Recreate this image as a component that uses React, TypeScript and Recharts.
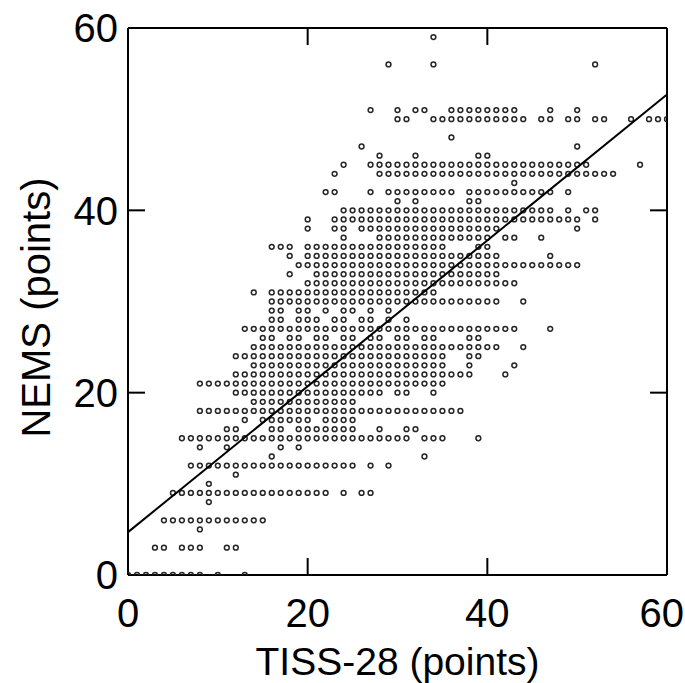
import { ScatterChart, Scatter, XAxis, YAxis } from "recharts";

// NEMS score levels (y) and, for each level, the TISS-28 values (x) that have a patient dot.
// Runs like "8-37" mean a dot at every integer score in that span.
const nemsLevels = [
  0, 3, 5, 6, 8, 9, 10, 11, 12, 13, 14, 15, 16, 17, 18, 19, 20, 21, 22, 23, 24,
  25, 26, 27, 28, 29, 30, 31, 32, 33, 34, 35, 36, 37, 38, 39, 40, 41, 42, 43,
  44, 45, 46, 47, 48, 50, 51, 56, 59,
];

const tissRuns = [
  "0-8,10,13",
  "3-4,6-8,11-12",
  "8",
  "4-15",
  "9",
  "5-22,24,26-27",
  "9",
  "12",
  "7-25,27,29",
  "16,33",
  "8,11,17,19",
  "6-31,33-35,39",
  "11-12,16-17,19-25,28,31-32",
  "13,15-20,22-25",
  "8-37",
  "14-25",
  "12-28,30-31,34",
  "8-35",
  "12-38,42",
  "14-35,38,43",
  "12-35,38-39",
  "14-41,44",
  "15-16,18-19,21-22,24-25,27-28,30-31,33-34,38-39",
  "13-43,47",
  "16-17,19-21,23-24,26-27,29,31",
  "16-17,19-20,22,24-25,27,29",
  "16-41,44",
  "14,16-34",
  "20-43",
  "18,21-41",
  "19-50",
  "18,20-41,47",
  "16-18,20-35,39-40",
  "24,28-40,42-43,46",
  "20,23-24,26-41,50",
  "20,23-50,52",
  "24-47,49,51-52",
  "30,32,38-39",
  "22-23,27,29-36,38-47,49",
  "43",
  "23,28-54",
  "24,27-51,57",
  "28,32,39-40",
  "26,50",
  "36",
  "30-31,34-44,46-47,49-50,52-53,56,58-60",
  "27,30,32-33,36-43,47,50",
  "29,34,52",
  "34",
];

// regression line end points
const fitLine = [
  { tiss: 0, nems: 4.7 },
  { tiss: 60, nems: 52.7 },
];

const axisTicks = [0, 20, 40, 60];
const innerTicks = [20, 40];

const FONT = "'Liberation Sans', Arial, Helvetica, sans-serif";

function expandRuns(runs: string): number[] {
  const out: number[] = [];
  runs.split(",").forEach((part) => {
    const [a, b] = part.split("-").map(Number);
    if (b === undefined) out.push(a);
    else for (let v = a; v <= b; v++) out.push(v);
  });
  return out;
}

const patients = nemsLevels.flatMap((nems, i) =>
  expandRuns(tissRuns[i]).map((tiss) => ({ tiss, nems }))
);

const frame = { stroke: "#000", strokeWidth: 2 };
const noLabel = () => <g />;
const noShape = () => <g />;

const XTick = (p: any) => {
  // the last label sits right at the page edge, pull it in a touch
  const last = p.payload.value === 60;
  return (
    <text
      x={last ? 684 : p.x}
      y={p.y}
      dy="0.71em"
      textAnchor={last ? "end" : "middle"}
      fontSize={40}
      fontFamily={FONT}
      fill="#000"
    >
      {p.payload.value}
    </text>
  );
};

const XLabel = (props: any) => {
  const vb = props.viewBox || { x: 128, y: 575, width: 539, height: 108 };
  return (
    <text
      x={vb.x + vb.width / 2}
      y={661}
      textAnchor="middle"
      dominantBaseline="central"
      fontSize={39}
      fontFamily={FONT}
      fill="#000"
    >
      TISS-28 (points)
    </text>
  );
};

const YLabel = (props: any) => {
  const vb = props.viewBox || { x: 0, y: 28, width: 128, height: 547 };
  const cy = vb.y + vb.height / 2 + 6;
  return (
    <text
      x={36}
      y={cy}
      transform={`rotate(-90 36 ${cy})`}
      textAnchor="middle"
      dominantBaseline="central"
      fontSize={40}
      fontFamily={FONT}
      fill="#000"
    >
      NEMS (points)
    </text>
  );
};

const Dot = (p: any) => (
  <circle cx={p.cx} cy={p.cy} r={2.4} fill="none" stroke="#262626" strokeWidth={1.5} />
);

export default function App() {
  return (
    <div style={{ position: "absolute", left: 0, top: 0, background: "#fff" }}>
      <ScatterChart
        width={685}
        height={683}
        margin={{ top: 28, right: 18, bottom: 0, left: 0 }}
      >
        <XAxis
          xAxisId="x"
          type="number"
          dataKey="tiss"
          domain={[0, 60]}
          ticks={axisTicks}
          allowDataOverflow
          height={108}
          tickLine={false}
          tickSize={0}
          tickMargin={24}
          axisLine={frame}
          tick={XTick}
          label={{ content: XLabel }}
        />
        <XAxis
          xAxisId="xIn"
          type="number"
          dataKey="tiss"
          orientation="bottom"
          mirror
          domain={[0, 60]}
          ticks={innerTicks}
          allowDataOverflow
          tickSize={17}
          tick={noLabel}
          axisLine={false}
          tickLine={frame}
        />
        <XAxis
          xAxisId="xTop"
          type="number"
          dataKey="tiss"
          orientation="top"
          mirror
          domain={[0, 60]}
          ticks={innerTicks}
          allowDataOverflow
          tickSize={17}
          tick={noLabel}
          axisLine={frame}
          tickLine={frame}
        />
        <YAxis
          yAxisId="y"
          type="number"
          dataKey="nems"
          domain={[0, 60]}
          ticks={axisTicks}
          allowDataOverflow
          width={128}
          tickLine={false}
          tickSize={0}
          tickMargin={10}
          axisLine={frame}
          tick={{ fill: "#000", fontSize: 40, fontFamily: FONT }}
          label={{ content: YLabel }}
        />
        <YAxis
          yAxisId="yIn"
          type="number"
          dataKey="nems"
          orientation="left"
          mirror
          domain={[0, 60]}
          ticks={innerTicks}
          allowDataOverflow
          tickSize={17}
          tick={noLabel}
          axisLine={false}
          tickLine={frame}
        />
        <YAxis
          yAxisId="yRight"
          type="number"
          dataKey="nems"
          orientation="right"
          mirror
          domain={[0, 60]}
          ticks={innerTicks}
          allowDataOverflow
          tickSize={17}
          tick={noLabel}
          axisLine={frame}
          tickLine={frame}
        />
        <Scatter
          xAxisId="x"
          yAxisId="y"
          data={patients}
          shape={Dot}
          isAnimationActive={false}
        />
        <Scatter
          xAxisId="x"
          yAxisId="y"
          data={fitLine}
          line={{ stroke: "#000", strokeWidth: 2 }}
          shape={noShape}
          isAnimationActive={false}
        />
        {/* invisible series so the inner-tick axes get a scale */}
        <Scatter
          xAxisId="xIn"
          yAxisId="yIn"
          data={fitLine}
          shape={noShape}
          isAnimationActive={false}
        />
        <Scatter
          xAxisId="xTop"
          yAxisId="yRight"
          data={fitLine}
          shape={noShape}
          isAnimationActive={false}
        />
      </ScatterChart>
    </div>
  );
}
